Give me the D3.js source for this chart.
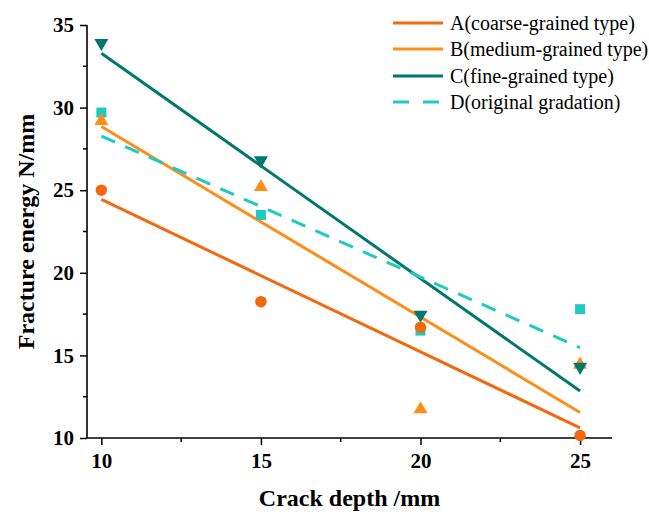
<!DOCTYPE html>
<html>
<head>
<meta charset="utf-8">
<script src="https://cdn.jsdelivr.net/npm/d3@7"></script>
<style>
  html, body { margin: 0; padding: 0; background: #fff; }
  svg { display: block; }
</style>
</head>
<body>
<svg id="chart" width="649" height="515"></svg>
<script>
// Crack depth (mm) on the x axis
const crackDepth = [10, 15, 20, 25];

// Fracture energy (N/mm) for each gradation type
const seriesA = [25.0, 18.25, 16.7, 10.15];  // coarse-grained
const seriesB = [29.25, 25.25, 11.8, 14.5];  // medium-grained
const seriesC = [33.85, 26.75, 17.4, 14.25]; // fine-grained
const seriesD = [29.7, 23.5, 16.5, 17.8];    // original gradation

const seriesNames = [
  "A(coarse-grained type)",
  "B(medium-grained type)",
  "C(fine-grained type)",
  "D(original gradation)"
];

const xTicks = [10, 15, 20, 25];
const yTicks = [10, 15, 20, 25, 30, 35];

const series = [
  { name: seriesNames[0], values: seriesA, color: "#f26a10", marker: "circle", dash: null, legendDash: null },
  { name: seriesNames[1], values: seriesB, color: "#ff8d1c", marker: "triangleUp", dash: null, legendDash: null },
  { name: seriesNames[2], values: seriesC, color: "#00786c", marker: "triangleDown", dash: null, legendDash: null },
  { name: seriesNames[3], values: seriesD, color: "#1ecac2", marker: "square", dash: "15,11", legendDash: "16,14" }
];

const SERIF = "'Liberation Serif', 'Times New Roman', Times, serif";

const svg = d3.select("#chart").style("font-family", SERIF);
const plotLeft = 87, plotRight = 612, plotTop = 25, plotBottom = 438;

const x = d3.scaleLinear().domain([9.55, 26]).range([plotLeft, plotRight]);
const y = d3.scaleLinear().domain([10, 35]).range([plotBottom, plotTop]);

// Least-squares linear fit through each series
function linearFit(xs, ys) {
  const mx = d3.mean(xs), my = d3.mean(ys);
  let num = 0, den = 0;
  xs.forEach((xv, i) => { num += (xv - mx) * (ys[i] - my); den += (xv - mx) ** 2; });
  const slope = num / den;
  return xv => my + slope * (xv - mx);
}

// Axes
const xAxis = d3.axisBottom(x).tickValues(xTicks).tickSize(7).tickPadding(8).tickFormat(d3.format("d"));
const yAxis = d3.axisLeft(y).tickValues(yTicks).tickSize(7).tickPadding(6).tickFormat(d3.format("d"));

const gx = svg.append("g").attr("transform", `translate(0,${plotBottom})`).call(xAxis);
const gy = svg.append("g").attr("transform", `translate(${plotLeft},0)`).call(yAxis);

// Minor ticks
const xMinor = [12.5, 17.5, 22.5];
const yMinor = [12.5, 17.5, 22.5, 27.5, 32.5];
svg.append("g").selectAll("line").data(xMinor).join("line")
  .attr("x1", d => x(d)).attr("x2", d => x(d))
  .attr("y1", plotBottom).attr("y2", plotBottom + 4)
  .attr("stroke", "#000").attr("stroke-width", 1.5);
svg.append("g").selectAll("line").data(yMinor).join("line")
  .attr("x1", plotLeft - 4).attr("x2", plotLeft)
  .attr("y1", d => y(d)).attr("y2", d => y(d))
  .attr("stroke", "#000").attr("stroke-width", 1.5);

[gx, gy].forEach(g => {
  g.attr("font-family", null);
  g.select(".domain").attr("stroke", "#000").attr("stroke-width", 1.6);
  g.selectAll(".tick line").attr("stroke", "#000").attr("stroke-width", 1.5);
  g.selectAll(".tick text")
    .style("font-family", SERIF)
    .style("font-size", "21px").style("font-weight", "bold").attr("fill", "#000");
});
// Plain axis lines without end caps
gx.select(".domain").attr("d", `M${plotLeft},0H${plotRight}`);
gy.select(".domain").attr("d", `M0,${plotTop}V${plotBottom}`);

// Axis titles
svg.append("text")
  .attr("x", (plotLeft + plotRight) / 2).attr("y", 506)
  .attr("text-anchor", "middle")
  .style("font-family", SERIF)
  .style("font-size", "24px").style("font-weight", "bold")
  .text("Crack depth /mm");
svg.append("text")
  .attr("transform", `translate(34,${(plotTop + plotBottom) / 2}) rotate(-90)`)
  .attr("text-anchor", "middle")
  .style("font-family", SERIF)
  .style("font-size", "24px").style("font-weight", "bold")
  .text("Fracture energy N/mm");

// Fit lines
const lineGen = d3.line().x(d => x(d[0])).y(d => y(d[1]));
series.forEach(s => {
  const f = linearFit(crackDepth, s.values);
  const x0 = crackDepth[0], x1 = crackDepth[crackDepth.length - 1];
  svg.append("path")
    .attr("d", lineGen([[x0, f(x0)], [x1, f(x1)]]))
    .attr("fill", "none")
    .attr("stroke", s.color)
    .attr("stroke-width", 3)
    .attr("stroke-dasharray", s.dash);
});

// Markers
const symbolTypes = {
  circle: d3.symbolCircle,
  square: d3.symbolSquare,
  triangleUp: d3.symbolTriangle,
  triangleDown: d3.symbolTriangle
};
const symbolSizes = { circle: 105, square: 100, triangleUp: 85, triangleDown: 85 };
const drawOrder = [3, 1, 2, 0];
drawOrder.forEach(i => {
  const s = series[i];
  const sym = d3.symbol().type(symbolTypes[s.marker]).size(symbolSizes[s.marker]);
  svg.append("g").selectAll("path").data(crackDepth).join("path")
    .attr("d", sym)
    .attr("transform", (d, j) =>
      `translate(${x(d)},${y(s.values[j]) + (s.marker === "triangleUp" ? 1 : s.marker === "triangleDown" ? -1 : 0)})` +
      (s.marker === "triangleDown" ? " rotate(180)" : ""))
    .attr("fill", s.color);
});

// Legend
const legend = svg.append("g");
const rowY = [23, 49, 76, 102];
series.forEach((s, i) => {
  legend.append("line")
    .attr("x1", 393).attr("x2", 443)
    .attr("y1", rowY[i]).attr("y2", rowY[i])
    .attr("stroke", s.color).attr("stroke-width", 3)
    .attr("stroke-dasharray", s.legendDash);
  legend.append("text")
    .attr("x", 450).attr("y", rowY[i] + 7)
    .style("font-family", SERIF)
    .style("font-size", "20px")
    .text(s.name);
});
</script>
</body>
</html>
